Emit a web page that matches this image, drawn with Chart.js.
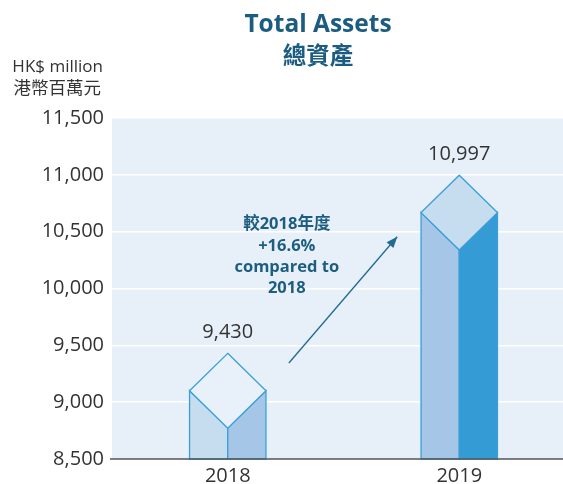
<!DOCTYPE html>
<html>
<head>
<meta charset="utf-8">
<script src="https://cdn.jsdelivr.net/npm/chart.js@4/dist/chart.umd.min.js"></script>
<style>
  html, body { margin: 0; padding: 0; background: #ffffff; overflow: hidden; }
  #wrap { width: 563px; height: 484px; position: relative; overflow: hidden; }
  #c { position: absolute; left: 0; top: 0; }
</style>
</head>
<body>
<div id="wrap"><canvas id="c" width="575" height="484"></canvas></div>
<script>
// ---- data ----
const categories = ['2018', '2019'];
const totalAssets = [9430, 10997];
const valueLabels = ['9,430', '10,997'];
const yTickValues = [8500, 9000, 9500, 10000, 10500, 11000, 11500];
const titleLines = ['Total Assets', '總資產'];
const unitLines = ['HK$ million', '港幣百萬元'];
const noteLines = ['較2018年度', '+16.6%', 'compared to', '2018'];

// ---- styles ----
const LATIN = '"Open Sans", "Noto Sans", sans-serif';
const CJK = '"Open Sans", "Noto Sans CJK TC", sans-serif';
const prismColors = [
  { left: '#c6dcef', right: '#a5c6e6', top: '#e8f1f9', stroke: '#3a9fd8' },
  { left: '#a5c6e6', right: '#359bd5', top: '#c6dcef', stroke: '#3a9fd8' }
];

const prismPlugin = {
  id: 'prism',
  beforeDraw(chart) {
    const { ctx, chartArea: a } = chart;
    ctx.save();
    ctx.fillStyle = '#e7f0f8';
    ctx.fillRect(a.left, a.top, a.right - a.left, a.bottom - a.top);
    ctx.restore();
  },
  afterDatasetsDraw(chart) {
    const { ctx, chartArea: a } = chart;
    const meta = chart.getDatasetMeta(0);
    const xs = chart.scales.x, ys = chart.scales.y;
    const basePx = ys.getPixelForValue(ys.min);
    ctx.save();
    meta.data.forEach((bar, i) => {
      const p = bar.getProps(['x', 'y', 'width'], true);
      const c = prismColors[i];
      const hw = p.width / 2, dy = hw * 0.98;
      const x = p.x, y = p.y, b = basePx;
      ctx.lineWidth = 1.3;
      ctx.strokeStyle = c.stroke;
      ctx.lineJoin = 'miter';
      // left face
      ctx.beginPath();
      ctx.moveTo(x - hw, y + dy); ctx.lineTo(x, y + 2 * dy); ctx.lineTo(x, b); ctx.lineTo(x - hw, b); ctx.closePath();
      ctx.fillStyle = c.left; ctx.fill(); ctx.stroke();
      // right face
      ctx.beginPath();
      ctx.moveTo(x + hw, y + dy); ctx.lineTo(x, y + 2 * dy); ctx.lineTo(x, b); ctx.lineTo(x + hw, b); ctx.closePath();
      ctx.fillStyle = c.right; ctx.fill(); ctx.stroke();
      // top diamond
      ctx.beginPath();
      ctx.moveTo(x, y); ctx.lineTo(x + hw, y + dy); ctx.lineTo(x, y + 2 * dy); ctx.lineTo(x - hw, y + dy); ctx.closePath();
      ctx.fillStyle = c.top; ctx.fill(); ctx.stroke();
      // value label
      ctx.fillStyle = '#333333';
      ctx.font = '20px ' + LATIN;
      ctx.textAlign = 'center'; ctx.textBaseline = 'middle';
      ctx.fillText(valueLabels[i], x, y - 21);
    });
    // axis line over bars
    ctx.strokeStyle = '#555555';
    ctx.lineWidth = 1.5;
    ctx.beginPath();
    ctx.moveTo(a.left - 2, a.bottom); ctx.lineTo(chart.width, a.bottom); ctx.stroke();

    // annotation arrow (positioned in data terms)
    const x0 = xs.getPixelForValue(0), x1 = xs.getPixelForValue(1);
    const px = f => x0 + f * (x1 - x0);
    const sx = px(0.264), sy = ys.getPixelForValue(9345);
    const ex = px(0.732), ey = ys.getPixelForValue(10455);
    ctx.strokeStyle = '#216a90';
    ctx.fillStyle = '#216a90';
    ctx.lineWidth = 1.3;
    ctx.beginPath(); ctx.moveTo(sx, sy); ctx.lineTo(ex, ey); ctx.stroke();
    const ang = Math.atan2(ey - sy, ex - sx);
    const L = 11, W = 4.5;
    ctx.beginPath();
    ctx.moveTo(ex, ey);
    ctx.lineTo(ex - L * Math.cos(ang) + W * Math.sin(ang), ey - L * Math.sin(ang) - W * Math.cos(ang));
    ctx.lineTo(ex - L * Math.cos(ang) - W * Math.sin(ang), ey - L * Math.sin(ang) + W * Math.cos(ang));
    ctx.closePath(); ctx.fill();

    // annotation text
    ctx.fillStyle = '#1d5d80';
    ctx.textAlign = 'center'; ctx.textBaseline = 'middle';
    const tx = px(0.255);
    const tys = [224, 246, 267, 288];
    noteLines.forEach((t, i) => {
      ctx.font = 'bold 16.5px ' + CJK;
      ctx.fillText(t, tx, tys[i]);
    });
    ctx.restore();
  },
  afterDraw(chart) {
    const { ctx } = chart;
    ctx.save();
    ctx.textAlign = 'center'; ctx.textBaseline = 'middle';
    ctx.fillStyle = '#1b5c80';
    ctx.font = 'bold 24.5px ' + LATIN;
    ctx.fillText(titleLines[0], 318, 25);
    ctx.font = 'bold 23.5px "Noto Sans CJK TC", sans-serif';
    ctx.fillText(titleLines[1], 318, 55);
    ctx.fillStyle = '#333333';
    ctx.textAlign = 'right';
    ctx.font = '17px ' + LATIN;
    ctx.fillText(unitLines[0], 103, 67);
    ctx.font = '17.5px "Noto Sans CJK TC", sans-serif';
    ctx.fillText(unitLines[1], 101, 87);
    ctx.restore();
  }
};

new Chart(document.getElementById('c'), {
  type: 'bar',
  data: {
    labels: categories,
    datasets: [{
      data: totalAssets,
      backgroundColor: 'rgba(0,0,0,0)',
      borderWidth: 0,
      barPercentage: 0.33,
      categoryPercentage: 1.0
    }]
  },
  options: {
    responsive: false,
    animation: false,
    events: [],
    layout: { padding: { top: 118, left: 0, right: 0, bottom: 0 } },
    plugins: { legend: { display: false }, tooltip: { enabled: false }, title: { display: false } },
    scales: {
      x: {
        grid: { display: false, drawTicks: false },
        border: { display: false },
        ticks: { color: '#333333', font: { family: LATIN, size: 20 }, padding: 5 },
        afterFit(s) { s.height = 25; }
      },
      y: {
        min: 8500, max: 11500,
        afterBuildTicks(s) { s.ticks = yTickValues.map(v => ({ value: v })); },
        grid: {
          drawTicks: false,
          lineWidth: 1.5,
          color: c => (c.tick && c.tick.value === 8500) ? 'rgba(0,0,0,0)' : '#ffffff'
        },
        border: { display: false },
        ticks: {
          color: '#333333',
          font: { family: LATIN, size: 20 },
          padding: 8,
          callback: v => Number(v).toLocaleString('en-US')
        },
        afterFit(s) { s.width = 112; }
      }
    }
  },
  plugins: [prismPlugin]
});
</script>
</body>
</html>
